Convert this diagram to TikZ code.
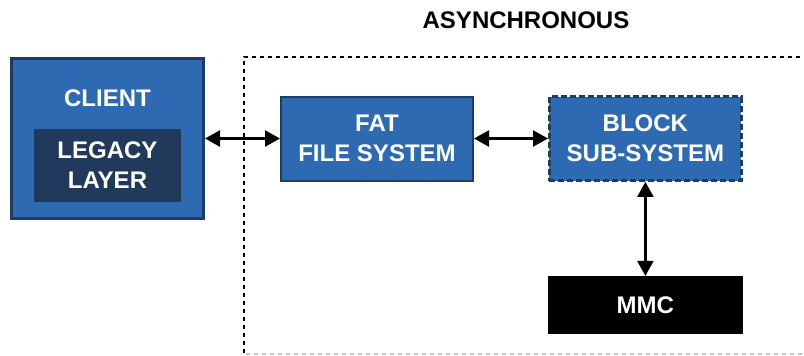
\documentclass[tikz,border=0pt]{standalone}
\usepackage{fontspec}
\setmainfont{Liberation Sans}
\usepackage{xcolor}
\definecolor{cBlue}{HTML}{2D6AB2}
\definecolor{cEdge}{HTML}{1F3D63}
\definecolor{cDeep}{HTML}{213A5B}
\definecolor{cRegion}{HTML}{C4C4C4}
\usepackage{tikz}
\usetikzlibrary{positioning,arrows.meta}
\tikzset{
  node-box/.style={draw=cEdge,line width=1pt,fill=cBlue,text=white,
    minimum width=96pt,minimum height=42pt,align=center,inner sep=0pt},
  node-dashed/.style={line width=1.4pt,dash pattern=on 3pt off 1.5pt},
  node-inner/.style={fill=cDeep,text=white,minimum width=73.5pt,
    minimum height=36.5pt,align=center,inner sep=0pt},
  node-dark/.style={fill=black,text=white,minimum width=97.5pt,
    minimum height=29pt,inner sep=0pt},
  arrow-both/.style={{Triangle[length=7.5pt,width=8pt]}-{Triangle[length=7.5pt,width=8pt]},
    line width=1.2pt},
  region/.style={line width=1pt,dash pattern=on 2pt off 2pt},
}

\begin{document}
\begin{tikzpicture}[x=0.5pt,y=-0.5pt,font=\fontsize{12}{15}\selectfont\bfseries]
  \useasboundingbox (0,0) rectangle (804,355);
  % asynchronous region, runs off to the right
  \begin{scope}
    \clip (0,0) rectangle (804,355);
    \draw[region] (244,353) |- (830,57);
    \draw[region,draw=cRegion] (246,354) -- (830,354);
  \end{scope}
  \node (async) at (526,20) {ASYNCHRONOUS};

  \node[node-box,minimum height=80pt,line width=1.5pt] (client) at (107.5,138.5) {};
  \node[text=white] (client-label) at (107.5,98) {CLIENT};
  \node[node-inner] (legacy) at (107.5,165.5) {LEGACY\\LAYER};
  \node[node-box,right=37.5pt of client] (fat) {FAT\\FILE SYSTEM};
  \node[node-box,node-dashed,right=37pt of fat] (block) {BLOCK\\SUB-SYSTEM};
  \node[node-dark,below=47pt of block] (mmc) {MMC};

  \draw[arrow-both] (client) -- (fat);
  \draw[arrow-both] (fat) -- (block);
  \draw[arrow-both] (block) -- (mmc);
\end{tikzpicture}
\end{document}
